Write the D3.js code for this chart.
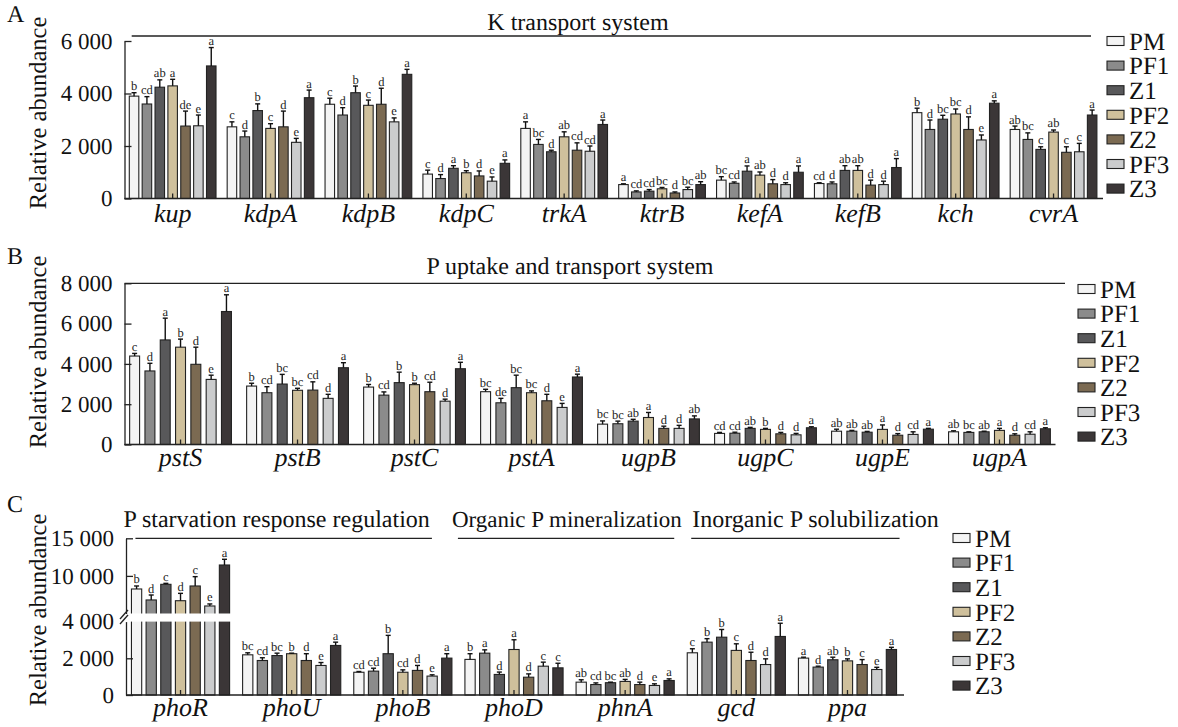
<!DOCTYPE html>
<html>
<head>
<meta charset="utf-8">
<script src="https://cdn.jsdelivr.net/npm/d3@7"></script>
<style>
  body { margin: 0; background: #fff; }
  svg { font-family: "Liberation Serif", "Times New Roman", serif; }
  text { text-rendering: geometricPrecision; }
</style>
</head>
<body>
<svg id="chart" width="1178" height="727"></svg>
<script>
// treatments
const series = ['PM', 'PF1', 'Z1', 'PF2', 'Z2', 'PF3', 'Z3'];
const seriesColors = ['#f4f4f4', '#8b8b8b', '#58585a', '#cfc09c', '#7b6a52', '#cbcccd', '#3b3637'];

// A: K transport system
const genesA = ['kup', 'kdpA', 'kdpB', 'kdpC', 'trkA', 'ktrB', 'kefA', 'kefB', 'kch', 'cvrA'];
const meanA = [
  [3900, 3600, 4240, 4290, 2760, 2770, 5050],
  [2730, 2350, 3350, 2670, 2730, 2140, 3840],
  [3590, 3180, 4030, 3550, 3590, 2920, 4730],
  [930, 760, 1150, 980, 860, 660, 1340],
  [2670, 2060, 1780, 2350, 1840, 1800, 2820],
  [530, 250, 280, 370, 210, 340, 530],
  [700, 580, 1040, 890, 560, 530, 1000],
  [570, 560, 1070, 1070, 510, 530, 1180],
  [3270, 2630, 3020, 3220, 2630, 2230, 3630],
  [2630, 2250, 1870, 2530, 1760, 1780, 3180]
];
const errA = [
  [130, 280, 280, 250, 570, 410, 700],
  [190, 220, 255, 180, 600, 150, 290],
  [230, 280, 255, 200, 610, 150, 190],
  [150, 150, 100, 80, 190, 160, 130],
  [250, 190, 60, 190, 280, 200, 170],
  [30, 40, 60, 50, 40, 90, 110],
  [130, 50, 200, 120, 160, 70, 240],
  [30, 70, 180, 180, 190, 130, 340],
  [170, 360, 150, 190, 480, 190, 90],
  [130, 250, 100, 80, 210, 320, 190]
];
const sigA = [
  ['b', 'cd', 'ab', 'a', 'de', 'e', 'a'],
  ['c', 'd', 'b', 'c', 'd', 'e', 'a'],
  ['c', 'd', 'b', 'c', 'd', 'e', 'a'],
  ['c', 'd', 'a', 'b', 'd', 'e', 'a'],
  ['a', 'bc', 'd', 'ab', 'cd', 'cd', 'a'],
  ['a', 'cd', 'cd', 'bc', 'd', 'bc', 'ab'],
  ['bc', 'cd', 'a', 'ab', 'd', 'd', 'a'],
  ['cd', 'd', 'ab', 'ab', 'd', 'd', 'a'],
  ['b', 'd', 'bc', 'bc', 'd', 'e', 'a'],
  ['ab', 'bc', 'c', 'ab', 'c', 'c', 'a']
];
const ticksA = [0, 2000, 4000, 6000];

// B: P uptake and transport system
const genesB = ['pstS', 'pstB', 'pstC', 'pstA', 'ugpB', 'ugpC', 'ugpE', 'ugpA'];
const meanB = [
  [4390, 3650, 5190, 4830, 3980, 3230, 6600],
  [2900, 2570, 3000, 2690, 2700, 2290, 3810],
  [2850, 2450, 3070, 2970, 2620, 2150, 3760],
  [2620, 2070, 2820, 2570, 2170, 1840, 3350],
  [1010, 1030, 1160, 1340, 800, 800, 1270],
  [550, 560, 800, 750, 530, 480, 830],
  [660, 660, 610, 750, 460, 500, 760],
  [630, 600, 630, 700, 460, 510, 780]
];
const errB = [
  [130, 380, 1080, 400, 850, 210, 830],
  [140, 300, 480, 100, 410, 200, 250],
  [130, 160, 520, 70, 470, 100, 320],
  [120, 220, 620, 90, 320, 200, 140],
  [160, 130, 90, 250, 110, 150, 150],
  [50, 50, 50, 50, 70, 70, 50],
  [100, 40, 40, 220, 80, 130, 40],
  [50, 30, 30, 100, 70, 120, 50]
];
const sigB = [
  ['c', 'd', 'a', 'b', 'd', 'e', 'a'],
  ['b', 'cd', 'bc', 'bc', 'cd', 'd', 'a'],
  ['b', 'cd', 'b', 'b', 'cd', 'd', 'a'],
  ['bc', 'de', 'bc', 'bc', 'd', 'e', 'a'],
  ['bc', 'bc', 'ab', 'a', 'd', 'd', 'ab'],
  ['cd', 'cd', 'ab', 'b', 'd', 'd', 'a'],
  ['ab', 'ab', 'ab', 'a', 'd', 'cd', 'a'],
  ['ab', 'bc', 'ab', 'a', 'd', 'cd', 'a']
];
const ticksB = [0, 2000, 4000, 6000, 8000];

// C: P cycling genes (broken y axis)
const genesC = ['phoR', 'phoU', 'phoB', 'phoD', 'phnA', 'gcd', 'ppa'];
const meanC = [
  [8260, 6800, 8880, 6700, 8660, 6000, 11450],
  [2190, 1880, 2150, 2250, 1880, 1610, 2700],
  [1240, 1300, 2250, 1240, 1340, 1030, 2010],
  [1940, 2280, 1120, 2480, 970, 1570, 1480],
  [700, 570, 670, 740, 570, 520, 790],
  [2300, 2880, 3150, 2430, 1880, 1660, 3190],
  [2010, 1520, 1920, 1860, 1660, 1390, 2480]
];
const errC = [
  [400, 660, 130, 980, 1240, 270, 760],
  [110, 150, 130, 30, 370, 160, 180],
  [40, 160, 1000, 130, 270, 70, 240],
  [310, 180, 130, 530, 180, 220, 250],
  [130, 90, 30, 110, 130, 90, 90],
  [220, 190, 420, 360, 450, 310, 720],
  [50, 50, 140, 110, 270, 120, 120]
];
const sigC = [
  ['b', 'd', 'c', 'd', 'c', 'e', 'a'],
  ['bc', 'cd', 'bc', 'b', 'd', 'e', 'a'],
  ['cd', 'cd', 'b', 'cd', 'd', 'e', 'a'],
  ['b', 'a', 'd', 'a', 'd', 'c', 'c'],
  ['ab', 'cd', 'bc', 'ab', 'd', 'e', 'a'],
  ['c', 'b', 'b', 'c', 'd', 'd', 'a'],
  ['a', 'd', 'ab', 'b', 'c', 'e', 'a']
];
const ticksCLow = [0, 2000, 4000];
const ticksCHigh = [10000, 15000];
const sectionsC = ['P starvation response regulation', 'Organic P mineralization', 'Inorganic P solubilization'];
const sectionGenesC = [['phoR', 'phoB'], ['phoD', 'phnA'], ['gcd', 'ppa']];

const svg = d3.select('#chart');
const fmt = d3.formatLocale({ decimal: '.', thousands: ' ', grouping: [3], currency: ['', ''] }).format(',');
const ink = '#222';

function styleAxis(ax, size) {
  ax.selectAll('path, line').attr('stroke', ink).attr('stroke-width', 1.3);
  ax.selectAll('text').attr('fill', '#111').attr('font-size', size)
    .attr('font-family', '"Liberation Serif", "Times New Roman", serif');
}

function drawPanel(p) {
  const g = svg.append('g');
  const xG = d3.scaleBand().domain(p.genes).range(p.xRange)
    .paddingInner(p.padIn).paddingOuter(p.padOut);
  const xS = d3.scaleBand().domain(series).range([0, xG.bandwidth()]).paddingInner(p.barPad);
  const y = p.y;
  const y0 = y(0);

  // groups of bars
  const groups = g.selectAll('g.grp')
    .data(p.genes)
    .enter()
    .append('g')
    .attr('class', 'grp')
    .attr('transform', (d) => `translate(${xG(d)},0)`);

  groups.each(function (gene, gi) {
    const grp = d3.select(this);
    const rows = series.map((s, i) => ({
      s, i, v: p.mean[gi][i], e: p.err[gi][i], sig: p.sig[gi][i]
    }));
    grp.selectAll('rect')
      .data(rows)
      .enter()
      .append('rect')
      .attr('x', (d) => xS(d.s))
      .attr('y', (d) => y(d.v))
      .attr('width', xS.bandwidth())
      .attr('height', (d) => y0 - y(d.v))
      .attr('fill', (d) => seriesColors[d.i])
      .attr('stroke', ink)
      .attr('stroke-width', 1.1);
    // error bars
    grp.selectAll('line.err')
      .data(rows)
      .enter()
      .append('line')
      .attr('class', 'err')
      .attr('x1', (d) => xS(d.s) + xS.bandwidth() / 2)
      .attr('x2', (d) => xS(d.s) + xS.bandwidth() / 2)
      .attr('y1', (d) => y(d.v))
      .attr('y2', (d) => y(d.v + d.e))
      .attr('stroke', '#111')
      .attr('stroke-width', 1.4);
    grp.selectAll('line.cap')
      .data(rows)
      .enter()
      .append('line')
      .attr('class', 'cap')
      .attr('x1', (d) => xS(d.s) + xS.bandwidth() / 2 - 2.5)
      .attr('x2', (d) => xS(d.s) + xS.bandwidth() / 2 + 2.5)
      .attr('y1', (d) => y(d.v + d.e))
      .attr('y2', (d) => y(d.v + d.e))
      .attr('stroke', '#111')
      .attr('stroke-width', 1.4);
    // significance letters
    grp.selectAll('text.sig')
      .data(rows)
      .enter()
      .append('text')
      .attr('class', 'sig')
      .attr('x', (d) => xS(d.s) + xS.bandwidth() / 2)
      .attr('y', (d) => y(d.v + d.e) - 2.5)
      .attr('text-anchor', 'middle')
      .attr('font-size', 12.5)
      .attr('fill', '#222')
      .text((d) => d.sig);
  });

  if (p.afterBars) p.afterBars(g, xG);

  // x axis with inward ticks at group centres
  const xAxis = g.append('g')
    .attr('transform', `translate(0,${y0})`)
    .call(d3.axisBottom(xG).tickSizeInner(-5).tickSizeOuter(0).tickPadding(p.labelPad));
  styleAxis(xAxis, 26);
  xAxis.select('.domain').attr('d', `M${p.xRange[0]},0H${p.xAxisEnd}`);
  xAxis.selectAll('text').attr('font-style', 'italic');

  // y axis
  p.yAxes.forEach((ya) => {
    const ax = g.append('g')
      .attr('transform', `translate(${p.xRange[0]},0)`)
      .call(d3.axisLeft(ya.scale).tickValues(ya.ticks).tickSizeInner(-7).tickSizeOuter(0)
        .tickPadding(12).tickFormat(fmt));
    styleAxis(ax, 23);
    if (ya.noTick) ax.selectAll('.tick').filter((d) => ya.noTick.includes(d)).select('line').remove();
  });

  // axis title
  g.append('text')
    .attr('transform', `translate(46,${p.yTitleY}) rotate(-90)`)
    .attr('text-anchor', 'middle')
    .attr('font-size', 24.5)
    .attr('fill', '#111')
    .text('Relative abundance');

  // panel letter
  g.append('text')
    .attr('x', 7)
    .attr('y', p.letterY)
    .attr('font-size', 24)
    .attr('fill', '#111')
    .text(p.letter);

  // legend
  const lg = g.append('g').attr('transform', `translate(${p.legendX},${p.legendY})`);
  const items = lg.selectAll('g')
    .data(series)
    .enter()
    .append('g')
    .attr('transform', (d, i) => `translate(0,${i * 24.6})`);
  items.append('rect')
    .attr('x', 0)
    .attr('y', -4.5)
    .attr('width', 17)
    .attr('height', 9)
    .attr('fill', (d, i) => seriesColors[i])
    .attr('stroke', ink)
    .attr('stroke-width', 1.1);
  items.append('text')
    .attr('x', 22)
    .attr('y', 0)
    .attr('dy', '0.35em')
    .attr('font-size', 25)
    .attr('fill', '#111')
    .text((d) => d);

  return { g, xG };
}

// ---- Panel A
const yA = d3.scaleLinear().domain([0, 6000]).range([198.5, 41]);
const pA = drawPanel({
  genes: genesA, mean: meanA, err: errA, sig: sigA,
  xRange: [124.5, 1101.7], xAxisEnd: 1103, padIn: 0.114, padOut: 0.049, barPad: 0.26,
  y: yA, yAxes: [{ scale: yA, ticks: ticksA }], labelPad: 5,
  yTitleY: 113, letter: 'A', letterY: 22, legendX: 1107, legendY: 41
});
pA.g.append('line').attr('x1', 131.7).attr('x2', 1091).attr('y1', 36).attr('y2', 36)
  .attr('stroke', ink).attr('stroke-width', 1.3);
pA.g.append('text').attr('x', 578).attr('y', 30).attr('text-anchor', 'middle')
  .attr('font-size', 24).attr('fill', '#111').text('K transport system');

// ---- Panel B
const yB = d3.scaleLinear().domain([0, 8000]).range([444.5, 283.3]);
const pB = drawPanel({
  genes: genesB, mean: meanB, err: errB, sig: sigB,
  xRange: [124.5, 1055.5], xAxisEnd: 1055.5, padIn: 0.13, padOut: 0.044, barPad: 0.35,
  y: yB, yAxes: [{ scale: yB, ticks: ticksB }], labelPad: 3,
  yTitleY: 352, letter: 'B', letterY: 264, legendX: 1078, legendY: 289
});
pB.g.append('line').attr('x1', 124.5).attr('x2', 1065).attr('y1', yB(8000)).attr('y2', yB(8000))
  .attr('stroke', ink).attr('stroke-width', 1.3);
pB.g.append('text').attr('x', 570).attr('y', 274).attr('text-anchor', 'middle')
  .attr('font-size', 24).attr('fill', '#111').text('P uptake and transport system');

// ---- Panel C (broken axis)
const yCLow = d3.scaleLinear().domain([0, 4000]).range([695, 621.6]);
const yCHigh = d3.scaleLinear().domain([5000, 15000]).range([613.5, 538.3]);
const yC = (v) => (v <= 4000 ? yCLow(v) : yCHigh(v));
const axisXC = 126;
const pC = drawPanel({
  genes: genesC, mean: meanC, err: errC, sig: sigC,
  xRange: [axisXC, 902], xAxisEnd: 904, padIn: 0.117, padOut: 0.049, barPad: 0.3,
  y: yC,
  yAxes: [{ scale: yCLow, ticks: ticksCLow, noTick: [4000] }, { scale: yCHigh, ticks: ticksCHigh }],
  labelPad: 3,
  yTitleY: 610, letter: 'C', letterY: 512, legendX: 953, legendY: 538,
  afterBars: (g, xG) => {
    // white gap across the broken bars
    g.append('rect')
      .attr('x', axisXC - 1)
      .attr('y', yCHigh(5000))
      .attr('width', xG('phoR') + xG.bandwidth() + 3 - axisXC)
      .attr('height', yCLow(4000) - yCHigh(5000))
      .attr('fill', '#fff');
  }
});
// break marks
[0, 5].forEach((o) => {
  pC.g.append('line')
    .attr('x1', axisXC - 6).attr('y1', 619 + o)
    .attr('x2', axisXC + 2).attr('y2', 610 + o)
    .attr('stroke', ink).attr('stroke-width', 1.3);
});
// section headers
const sectionInset = [[4, -20], [-7, 0], [4, 3]];
const sectionTextDx = [-12, -6, 1];
const sectionFont = [24, 23, 24];
sectionsC.forEach((name, i) => {
  const [first, last] = sectionGenesC[i];
  const x1 = pC.xG(first) + sectionInset[i][0];
  const x2 = pC.xG(last) + pC.xG.bandwidth() + sectionInset[i][1];
  pC.g.append('line').attr('x1', x1).attr('x2', x2)
    .attr('y1', yCHigh(15000)).attr('y2', yCHigh(15000))
    .attr('stroke', ink).attr('stroke-width', 1.3);
  pC.g.append('text').attr('x', x1 + sectionTextDx[i]).attr('y', 527)
    .attr('font-size', sectionFont[i]).attr('fill', '#111').text(name);
});
</script>
</body>
</html>
